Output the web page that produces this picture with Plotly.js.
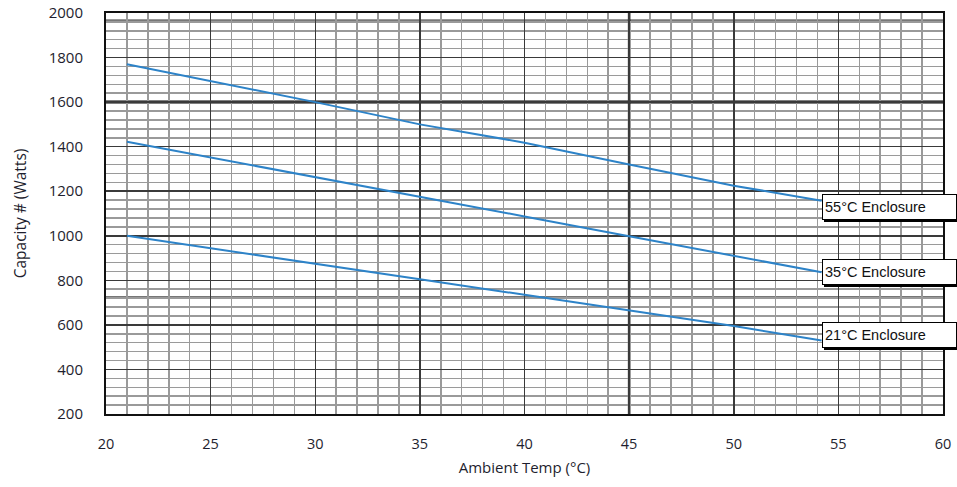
<!DOCTYPE html>
<html>
<head>
<meta charset="utf-8">
<script src="https://cdn.plot.ly/plotly-3.0.1.min.js"></script>
<style>html,body{margin:0;padding:0;background:#fff;}#chart{width:957px;height:487px;}</style>
</head>
<body>
<div id="chart"></div>
<script>
// Data
const ambientTemp = [21, 25, 30, 35, 40, 45, 50, 54.2];
const enclosure55 = [1770, 1693, 1600, 1500, 1418, 1320, 1225, 1157];
const enclosure35 = [1422, 1352, 1263, 1175, 1087, 998, 910, 836];
const enclosure21 = [1000, 945, 875, 805, 735, 665, 595, 530];
const seriesNames = ['55°C Enclosure', '35°C Enclosure', '21°C Enclosure'];

const lineColor = '#2d83c8';
const series = [enclosure55, enclosure35, enclosure21];
const traces = series.map((ys, i) => ({
  x: ambientTemp, y: ys, type: 'scatter', mode: 'lines', name: seriesNames[i],
  line: {color: lineColor, width: 2}, hoverinfo: 'x+y'
}));

const labelShift = [-6, 0, 5];
const annotations = [];
series.forEach((ys, i) => {
  const xe = ambientTemp[ambientTemp.length - 1];
  const ye = ys[ys.length - 1];
  const base = {
    x: xe, y: ye, xref: 'x', yref: 'y', xanchor: 'left', yanchor: 'middle',
    showarrow: false, align: 'left', width: 129, height: 20, borderpad: 2,
    font: {family: 'Liberation Sans, Arial, sans-serif', size: 14.5, color: '#111'}
  };
  // drop shadow box (no visible text)
  annotations.push(Object.assign({}, base, {
    text: '\u00a0', xshift: 2, yshift: labelShift[i] - 2,
    bgcolor: '#000', bordercolor: '#000', borderwidth: 1
  }));
  annotations.push(Object.assign({}, base, {
    text: seriesNames[i], yshift: labelShift[i],
    bgcolor: '#fff', bordercolor: '#000', borderwidth: 1
  }));
});

const shapes = [
  {type: 'line', xref: 'paper', x0: 0, x1: 1, yref: 'y', y0: 1967, y1: 1967, line: {color: '#777', width: 2}, layer: 'below'},
  {type: 'line', xref: 'paper', x0: 0, x1: 1, yref: 'y', y0: 725, y1: 725, line: {color: '#777', width: 2}, layer: 'below'},
  {type: 'line', xref: 'paper', x0: 0, x1: 1, yref: 'y', y0: 1600, y1: 1600, line: {color: '#000', width: 3}, layer: 'below'},
  {type: 'line', xref: 'x', x0: 45, x1: 45, yref: 'paper', y0: 0, y1: 1, line: {color: '#000', width: 2.5}, layer: 'below'}
];

const tickFont = {family: 'Open Sans, DejaVu Sans, sans-serif', size: 14.5, color: '#1e1e2e'};

const layout = {
  width: 957, height: 487,
  margin: {l: 106, r: 14, t: 13, b: 73},
  paper_bgcolor: '#fff', plot_bgcolor: '#fff',
  showlegend: false,
  xaxis: {
    range: [20, 60], tickmode: 'linear', tick0: 20, dtick: 5,
    showgrid: true, gridcolor: '#3a3a3a', gridwidth: 1.5,
    minor: {tickmode: 'linear', tick0: 20, dtick: 1, showgrid: true, gridcolor: '#9a9a9a', gridwidth: 1.5},
    showline: true, linecolor: '#111', linewidth: 2, mirror: true,
    ticks: 'outside', ticklen: 16, tickcolor: 'rgba(0,0,0,0)',
    tickfont: tickFont, zeroline: false,
    title: {text: 'Ambient Temp (°C)', font: {family: 'Open Sans, DejaVu Sans, sans-serif', size: 15, color: '#1e1e2e'}, standoff: 10}
  },
  yaxis: {
    range: [200, 2000], tickmode: 'linear', tick0: 0, dtick: 200,
    showgrid: true, gridcolor: '#3a3a3a', gridwidth: 1.5,
    minor: {tickmode: 'linear', tick0: 0, dtick: 40, showgrid: true, gridcolor: '#9a9a9a', gridwidth: 1.5},
    showline: true, linecolor: '#111', linewidth: 2, mirror: true,
    ticks: 'outside', ticklen: 18, tickcolor: 'rgba(0,0,0,0)',
    tickfont: Object.assign({}, tickFont, {size: 15}), zeroline: false,
    title: {text: 'Capacity # (Watts)', font: {family: 'Open Sans, DejaVu Sans, sans-serif', size: 15.5, color: '#1e1e2e'}, standoff: 18}
  },
  shapes: shapes,
  annotations: annotations
};

Plotly.newPlot('chart', traces, layout, {displayModeBar: false, staticPlot: true});
</script>
</body>
</html>
